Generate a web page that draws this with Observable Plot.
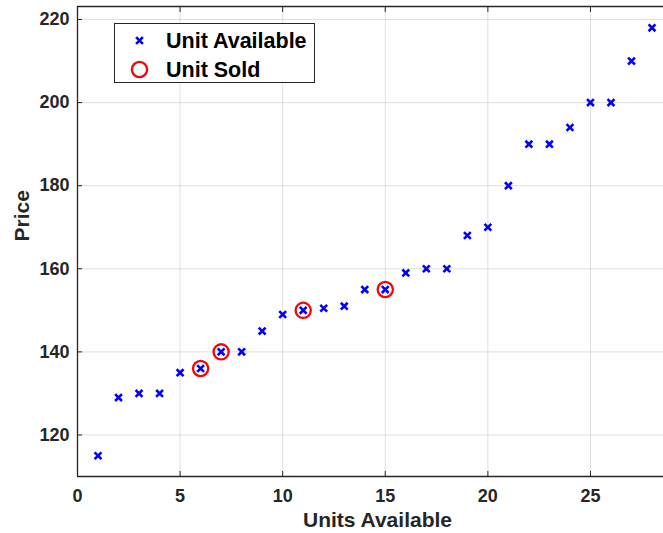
<!DOCTYPE html>
<html>
<head>
<meta charset="utf-8">
<script src="https://cdn.jsdelivr.net/npm/d3@7"></script>
<script src="https://cdn.jsdelivr.net/npm/@observablehq/plot@0.6"></script>
<style>
  html, body { margin: 0; padding: 0; background: #fff; }
  #wrap { position: relative; width: 663px; height: 533px; font-family: "Liberation Sans", Arial, sans-serif; }
  #legend { position: absolute; left: 114px; top: 23px; width: 199px; height: 58px; border: 1px solid #262626; background: #fff; }
  #legend svg { position: absolute; left: 0; top: 0; }
</style>
</head>
<body>
<div id="wrap"></div>
<script>
// ---- data ----
const units = [1,2,3,4,5,6,7,8,9,10,11,12,13,14,15,16,17,18,19,20,21,22,23,24,25,26,27,28];
const prices = [115,129,130,130,135,136,140,140,145,149,150,150.5,151,155,155,159,160,160,168,170,180,190,190,194,200,200,210,218];
const soldUnits = [6,7,11,15];
const soldPrices = [136,140,150,155];
const xTicks = [0,5,10,15,20,25];
const yTicks = [120,140,160,180,200,220];
const xDomain = [0, 28.56];
const yDomain = [110, 223.13];
const seriesNames = ["Unit Available", "Unit Sold"];
const xLabel = "Units Available";
const yLabel = "Price";

const available = units.map((u, i) => ({u, p: prices[i]}));
const sold = soldUnits.map((u, i) => ({u, p: soldPrices[i]}));

const ink = "#262626";
const font = {fontSize: 18, fontWeight: "bold", fill: ink};

const chart = Plot.plot({
  width: 663,
  height: 533,
  marginLeft: 77,
  marginRight: 0,
  marginTop: 6,
  marginBottom: 57,
  style: {fontFamily: "'Liberation Sans', Arial, sans-serif", background: "#fff", overflow: "visible"},
  x: {domain: xDomain, ticks: xTicks},
  y: {domain: yDomain, ticks: yTicks},
  marks: [
    Plot.gridX(xTicks, {stroke: ink, strokeOpacity: 0.14, strokeWidth: 1}),
    Plot.gridY(yTicks, {stroke: ink, strokeOpacity: 0.14, strokeWidth: 1}),
    Plot.ruleX([xDomain[0]], {stroke: ink, strokeWidth: 1.3}),
    Plot.ruleY([yDomain[0]], {stroke: ink, strokeWidth: 1.3}),
    Plot.ruleY([yDomain[1]], {stroke: ink, strokeWidth: 1.3}),
    Plot.axisX(xTicks, {anchor: "bottom", tickSize: -5, tickPadding: 18, label: null, stroke: ink, ...font}),
    Plot.axisX(xTicks, {anchor: "top", tickSize: -5, tickFormat: () => "", label: null, stroke: ink}),
    Plot.axisY(yTicks, {anchor: "left", tickSize: -5, tickPadding: 13, label: null, stroke: ink, ...font}),
    Plot.text([xLabel], {frameAnchor: "bottom", dy: 50.5, dx: 7, text: d => d, fontSize: 21, fontWeight: "bold", fill: ink}),
    Plot.text([yLabel], {frameAnchor: "left", dx: -55, rotate: -90, text: d => d, fontSize: 21, fontWeight: "bold", fill: ink}),
    Plot.dot(sold, {x: "u", y: "p", r: 7.6, stroke: "#ff0000", strokeWidth: 2.3, fill: "none"}),
    Plot.dot(available, {x: "u", y: "p", symbol: "times", r: 3.2, stroke: "#0000ff", strokeWidth: 2.6})
  ]
});

const wrap = document.getElementById("wrap");
wrap.appendChild(chart);

// legend (overlay, inside the axes)
const legend = document.createElement("div");
legend.id = "legend";
wrap.appendChild(legend);
const ls = d3.select(legend).append("svg").attr("width", 199).attr("height", 58)
  .style("font-family", "'Liberation Sans', Arial, sans-serif");
const rows = [
  {name: seriesNames[0], cy: 16.5, kind: "times"},
  {name: seriesNames[1], cy: 45.5, kind: "circle"}
];
rows.forEach(r => {
  if (r.kind === "times") {
    ls.append("path")
      .attr("transform", `translate(24.5,${r.cy})`)
      .attr("d", d3.symbol(d3.symbolTimes, Math.PI * 3.2 * 3.2)())
      .attr("fill", "none").attr("stroke", "#0000ff").attr("stroke-width", 2.6);
  } else {
    ls.append("circle").attr("cx", 24.5).attr("cy", r.cy).attr("r", 7.6)
      .attr("fill", "none").attr("stroke", "#ff0000").attr("stroke-width", 2.3);
  }
  ls.append("text").attr("x", 51).attr("y", r.cy).attr("dy", "0.36em")
    .attr("font-size", 21.5).attr("font-weight", "bold").attr("fill", "#000")
    .text(r.name);
});
</script>
</body>
</html>
